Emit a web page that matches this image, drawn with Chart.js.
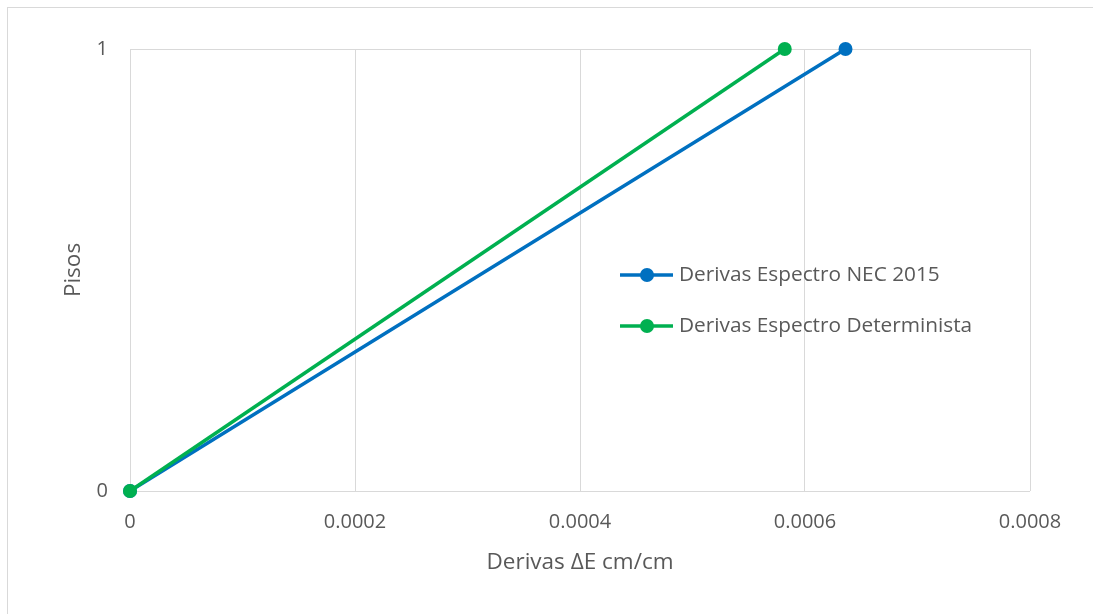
<!DOCTYPE html>
<html>
<head>
<meta charset="utf-8">
<script src="https://cdn.jsdelivr.net/npm/chart.js@4"></script>
<style>
  body { margin:0; overflow:hidden; background:#fff; }
  #marco { position:absolute; left:7px; top:7px; width:1200px; height:700px; border:1px solid #d9d9d9; }
  #grafica { position:absolute; left:0; top:0; }
</style>
</head>
<body>
<div id="marco"></div>
<canvas id="grafica" width="1093" height="614"></canvas>
<script>
// ── DATOS ─────────────────────────────────────────
const pisos         = [0, 1];
const derivasNEC    = [0, 0.000636];
const derivasDeterm = [0, 0.000582];
const ticksX        = [0, 0.0002, 0.0004, 0.0006, 0.0008];
const ticksY        = [0, 1];
const etiquetas     = ['Derivas Espectro NEC 2015', 'Derivas Espectro Determinista'];
const colores       = ['#0070C0', '#00B050'];

const fuente = "'Open Sans', sans-serif";
const gris   = '#595959';

// leyenda dentro del área de trazado
const leyendaInterna = {
    id: 'leyendaInterna',
    afterDraw(chart) {
        const { ctx, chartArea } = chart;
        const x0 = chartArea.left + 490;
        const ys = [chartArea.top + 226, chartArea.top + 277];
        ctx.save();
        chart.data.datasets.forEach((ds, i) => {
            const y = ys[i];
            ctx.strokeStyle = ds.borderColor;
            ctx.lineWidth = 3.5;
            ctx.beginPath();
            ctx.moveTo(x0, y);
            ctx.lineTo(x0 + 53, y);
            ctx.stroke();
            ctx.fillStyle = ds.borderColor;
            ctx.beginPath();
            ctx.arc(x0 + 27, y, 7, 0, Math.PI * 2);
            ctx.fill();
            ctx.fillStyle = gris;
            ctx.font = '20.8px ' + fuente;
            ctx.textBaseline = 'middle';
            ctx.fillText(ds.label, x0 + 59, y);
        });
        ctx.restore();
    }
};

// la serie determinista se dibuja encima (order menor = arriba)
const series = [derivasNEC, derivasDeterm].map((xs, i) => ({
    label: etiquetas[i],
    data: xs.map((x, j) => ({ x: x, y: pisos[j] })),
    order: 2 - i,
    showLine: true,
    clip: false,
    borderColor: colores[i],
    backgroundColor: colores[i],
    borderWidth: 3.5,
    pointRadius: 7,
    pointBorderWidth: 0
}));

new Chart(document.getElementById('grafica'), {
    type: 'scatter',
    data: { datasets: series },
    plugins: [leyendaInterna],
    options: {
        responsive: false,
        animation: false,
        layout: { padding: { left: 0, right: 63, top: 49, bottom: 0 } },
        plugins: { legend: { display: false }, tooltip: { enabled: false } },
        scales: {
            x: {
                type: 'linear',
                min: 0, max: 0.0008,
                afterBuildTicks: s => { s.ticks = ticksX.map(v => ({ value: v })); },
                afterFit: s => { s.height = 123; },
                grid: { color: '#d9d9d9', lineWidth: 1, drawTicks: false },
                border: { display: false },
                ticks: {
                    padding: 19,
                    color: gris,
                    font: { family: fuente, size: 20 },
                    callback: v => String(+v.toFixed(4))
                },
                title: {
                    display: true,
                    text: 'Derivas ΔE cm/cm',
                    color: gris,
                    font: { family: fuente, size: 22.5 },
                    padding: { top: 0, bottom: 38 }
                }
            },
            y: {
                type: 'linear',
                min: 0, max: 1,
                afterBuildTicks: s => { s.ticks = ticksY.map(v => ({ value: v })); },
                afterFit: s => { s.width = 130; },
                grid: { color: '#d9d9d9', lineWidth: 1, drawTicks: false },
                border: { display: false },
                ticks: {
                    padding: 22,
                    color: gris,
                    font: { family: fuente, size: 20 }
                },
                title: {
                    display: true,
                    text: 'Pisos',
                    color: gris,
                    font: { family: fuente, size: 22.5 },
                    padding: { top: 60, bottom: 0 }
                }
            }
        }
    }
});
</script>
</body>
</html>
